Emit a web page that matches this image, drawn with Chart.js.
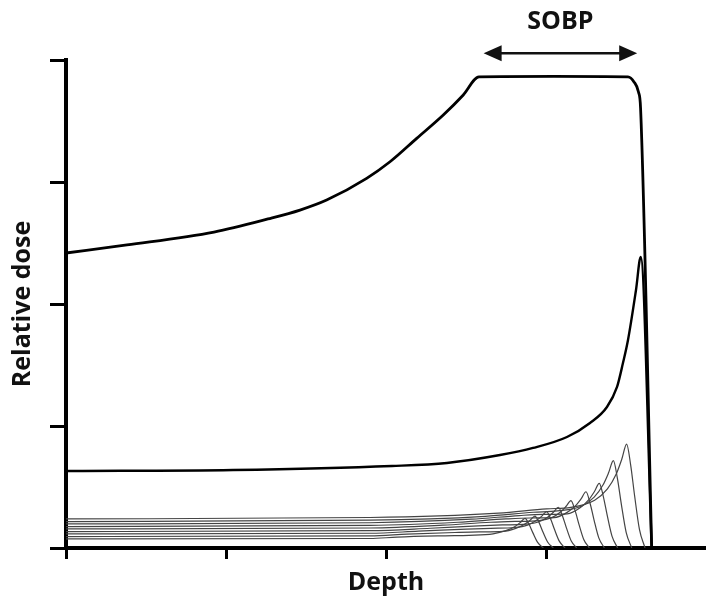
<!DOCTYPE html>
<html>
<head>
<meta charset="utf-8">
<script src="https://cdn.jsdelivr.net/npm/chart.js@4"></script>
<style>
html,body{margin:0;padding:0;background:#fff;}
#wrap{width:706px;height:602px;position:relative;}
</style>
</head>
<body>
<div id="wrap"><canvas id="c"></canvas></div>
<script>
// ---- data (depth, relative dose) ----
const xTitle = 'Depth';
const yTitle = 'Relative dose';

const sobpCurve = [[0,2.418],[0.381,2.484],[0.925,2.590],[1.2625,2.697],[1.4625,2.770],[1.629,2.852],[1.879,3.030],[2.025,3.166],[2.192,3.358],[2.358,3.549],[2.483,3.713],[2.581,3.861],[3.05,3.865],[3.5125,3.861],[3.55,3.820],[3.578,3.738],[3.591,3.607],[3.6606,0]];

const braggCurve = [[0,0.631],[1.044,0.639],[2.0375,0.672],[2.381,0.697],[2.7125,0.762],[2.919,0.820],[3.131,0.910],[3.275,1.025],[3.381,1.156],[3.444,1.320],[3.481,1.516],[3.5125,1.705],[3.5625,2.115],[3.592,2.385],[3.6606,0]];

const peak1 = [[0,0.238],[1.9,0.250],[2.704,0.286],[3.004,0.321],[3.154,0.333],[3.304,0.392],[3.384,0.484],[3.439,0.606],[3.474,0.729],[3.504,0.852],[3.529,0.682],[3.554,0.426],[3.584,0.153],[3.619,0]];
const peak2 = [[0,0.217],[1.9,0.228],[2.621,0.260],[2.921,0.293],[3.071,0.304],[3.221,0.342],[3.301,0.417],[3.356,0.516],[3.391,0.616],[3.421,0.716],[3.446,0.573],[3.471,0.358],[3.501,0.129],[3.536,0]];
const peak3 = [[0,0.197],[1.9,0.207],[2.533,0.236],[2.833,0.266],[2.983,0.276],[3.133,0.280],[3.213,0.330],[3.268,0.397],[3.303,0.463],[3.333,0.530],[3.358,0.424],[3.383,0.265],[3.413,0.095],[3.448,0]];
const peak4 = [[0,0.176],[1.9,0.185],[2.45,0.211],[2.75,0.238],[2.9,0.246],[3.05,0.249],[3.13,0.290],[3.185,0.347],[3.22,0.404],[3.25,0.461],[3.275,0.369],[3.3,0.231],[3.33,0.083],[3.365,0]];
const peak5 = [[0,0.156],[1.9,0.164],[2.356,0.187],[2.656,0.211],[2.806,0.218],[2.956,0.225],[3.036,0.249],[3.091,0.295],[3.126,0.342],[3.156,0.388],[3.181,0.310],[3.206,0.194],[3.236,0.070],[3.271,0]];
const peak6 = [[0,0.135],[1.9,0.142],[2.277,0.162],[2.577,0.182],[2.727,0.189],[2.877,0.195],[2.957,0.215],[3.012,0.254],[3.047,0.294],[3.077,0.334],[3.102,0.267],[3.127,0.167],[3.157,0.060],[3.192,0]];
const peak7 = [[0,0.115],[1.9,0.121],[2.204,0.138],[2.504,0.155],[2.654,0.161],[2.804,0.168],[2.884,0.188],[2.939,0.225],[2.974,0.261],[3.004,0.298],[3.029,0.238],[3.054,0.149],[3.084,0.054],[3.119,0]];
const peak8 = [[0,0.094],[1.9,0.099],[2.131,0.113],[2.431,0.127],[2.581,0.132],[2.731,0.136],[2.811,0.161],[2.866,0.195],[2.901,0.228],[2.931,0.262],[2.956,0.210],[2.981,0.131],[3.011,0.047],[3.046,0]];
const peak9 = [[0,0.074],[1.9,0.078],[2.069,0.089],[2.369,0.100],[2.519,0.104],[2.669,0.116],[2.749,0.142],[2.804,0.175],[2.839,0.209],[2.869,0.243],[2.894,0.194],[2.919,0.122],[2.949,0.044],[2.984,0]];

const depthTicks = [0, 1, 2, 3];
const doseTicks = [0, 1, 2, 3, 4];

const sobpLabel = 'SOBP';
const sobpArrowDepths = [2.61, 3.57];
const sobpArrowDose = 4.055;
const sobpLabelDose = 4.31;

// ---- build ----
const toPts = arr => arr.map(p => ({x: p[0], y: p[1]}));
const thin = [peak1, peak2, peak3, peak4, peak5, peak6, peak7, peak8, peak9];

const datasets = [];
thin.forEach(pk => datasets.push({
  data: toPts(pk), borderColor: '#444', borderWidth: 1.2,
  pointRadius: 0, cubicInterpolationMode: 'monotone', fill: false
}));
datasets.push({data: toPts(braggCurve), borderColor: '#000', borderWidth: 2.4, pointRadius: 0, cubicInterpolationMode: 'monotone', fill: false});
datasets.push({data: toPts(sobpCurve), borderColor: '#000', borderWidth: 2.8, pointRadius: 0, cubicInterpolationMode: 'monotone', fill: false});

const sobpPlugin = {
  id: 'sobp',
  afterDraw(chart) {
    const {ctx, scales: {x, y}} = chart;
    const x1 = x.getPixelForValue(sobpArrowDepths[0]);
    const x2 = x.getPixelForValue(sobpArrowDepths[1]);
    const ya = y.getPixelForValue(sobpArrowDose);
    const yl = y.getPixelForValue(sobpLabelDose);
    const head = 18, hh = 8;
    ctx.save();
    ctx.strokeStyle = '#111'; ctx.fillStyle = '#111'; ctx.lineWidth = 2.5;
    ctx.beginPath(); ctx.moveTo(x1 + head - 2, ya); ctx.lineTo(x2 - head + 2, ya); ctx.stroke();
    ctx.beginPath(); ctx.moveTo(x1, ya); ctx.lineTo(x1 + head, ya - hh); ctx.lineTo(x1 + head, ya + hh); ctx.closePath(); ctx.fill();
    ctx.beginPath(); ctx.moveTo(x2, ya); ctx.lineTo(x2 - head, ya - hh); ctx.lineTo(x2 - head, ya + hh); ctx.closePath(); ctx.fill();
    ctx.font = 'bold 25px "Open Sans"';
    ctx.textAlign = 'center'; ctx.textBaseline = 'middle';
    ctx.fillText(sobpLabel, (x1 + x2) / 2, yl);
    ctx.restore();
  }
};

new Chart(document.getElementById('c'), {
  type: 'line',
  data: {datasets},
  plugins: [sobpPlugin],
  options: {
    responsive: true, maintainAspectRatio: false, animation: false,
    layout: {padding: {top: 60, left: 0, right: 0, bottom: 0}},
    plugins: {legend: {display: false}, tooltip: {enabled: false}},
    scales: {
      x: {
        type: 'linear', min: 0, max: 4,
        afterBuildTicks: s => { s.ticks = depthTicks.map(v => ({value: v})); },
        ticks: {display: false},
        grid: {drawOnChartArea: false, drawTicks: true, tickLength: 11, tickWidth: 3, tickColor: '#000'},
        border: {display: true, color: '#000', width: 4},
        title: {display: true, text: xTitle, color: '#111', font: {family: 'Open Sans', size: 25, weight: 'bold'}, padding: {top: 9, bottom: 4}}
      },
      y: {
        type: 'linear', min: 0, max: 4,
        afterBuildTicks: s => { s.ticks = doseTicks.map(v => ({value: v})); },
        ticks: {display: false},
        grid: {drawOnChartArea: false, drawTicks: true, tickLength: 16, tickWidth: 3, tickColor: '#000'},
        border: {display: true, color: '#000', width: 4},
        title: {display: true, text: yTitle, color: '#111', font: {family: 'Open Sans', size: 25, weight: 'bold'}, padding: {top: 7.5, bottom: 12.5}}
      }
    }
  }
});
</script>
</body>
</html>
